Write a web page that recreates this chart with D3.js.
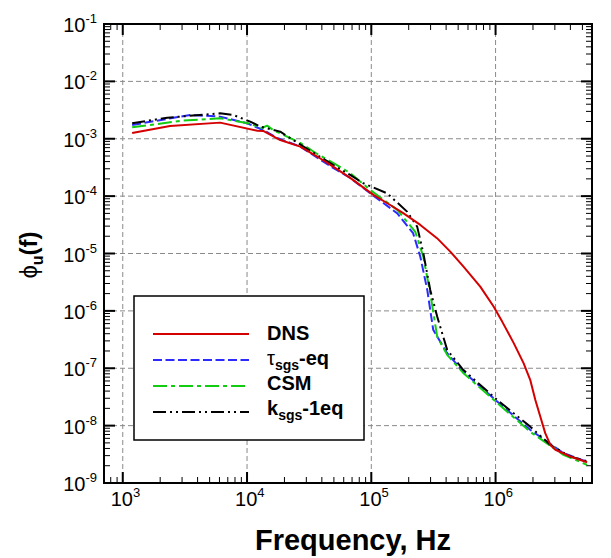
<!DOCTYPE html>
<html>
<head>
<meta charset="utf-8">
<script src="https://cdn.jsdelivr.net/npm/d3@7"></script>
<style>
  body { margin: 0; background: #fff; }
  svg { display: block; font-family: "Liberation Sans", Arial, sans-serif; }
</style>
</head>
<body>
<div id="chart"></div>
<script>
// spectra, [frequency Hz, phi_u]
var dns = [
  [1.19e3, 1.26e-3], [2.4e3, 1.67e-3], [6.07e3, 1.91e-3], [1.21e4, 1.38e-3],
  [1.35e4, 1.37e-3], [1.85e4, 9.5e-4], [2.68e4, 7.3e-4], [3.67e4, 4.9e-4],
  [4.93e4, 3.27e-4], [6.76e4, 2.08e-4], [1.04e5, 1.05e-4], [1.42e5, 7.0e-5],
  [1.82e5, 5.0e-5], [2.48e5, 3.15e-5], [3.38e5, 1.85e-5], [4.32e5, 1.08e-5],
  [5.52e5, 5.9e-6], [7.53e5, 2.65e-6], [9.64e5, 1.19e-6], [1.13e6, 6.5e-7],
  [1.4e6, 2.74e-7], [1.68e6, 1.23e-7], [1.9e6, 6.3e-8], [2.09e6, 2.8e-8],
  [2.29e6, 1.44e-8], [2.51e6, 7.4e-9], [2.76e6, 4.6e-9], [3.03e6, 3.8e-9],
  [3.99e6, 2.9e-9], [5.45e6, 2.3e-9]
];
var tauEq = [
  [1.19e3, 1.74e-3], [3.48e3, 2.6e-3], [6.07e3, 2.43e-3], [1.0e4, 1.86e-3],
  [1.35e4, 1.42e-3], [1.75e4, 1.03e-3], [2.68e4, 7.3e-4], [4.93e4, 3.1e-4],
  [6.76e4, 2.08e-4], [9.8e4, 1.12e-4], [1.62e5, 5.0e-5], [2.17e5, 2.26e-5],
  [2.48e5, 8.8e-6], [2.82e5, 2.32e-6], [3.15e5, 4.67e-7], [4.08e5, 1.83e-7],
  [5.49e5, 8.75e-8], [1.03e6, 2.63e-8], [1.9e6, 8.45e-9], [3.52e6, 3.32e-9],
  [5.45e6, 2.34e-9]
];
var csm = [
  [1.19e3, 1.58e-3], [3.05e3, 2.07e-3], [6.07e3, 2.28e-3], [1.02e4, 1.86e-3],
  [1.32e4, 1.54e-3], [1.45e4, 1.69e-3], [1.62e4, 1.42e-3], [2.68e4, 8.45e-4],
  [3.67e4, 5.43e-4], [4.93e4, 3.79e-4], [6.76e4, 2.53e-4], [9.8e4, 1.28e-4],
  [1.62e5, 5.75e-5], [2.26e5, 2.38e-5], [2.62e5, 8.8e-6], [2.98e5, 2.03e-6],
  [3.39e5, 3.56e-7], [4.08e5, 1.71e-7], [5.49e5, 8.3e-8], [1.03e6, 2.49e-8],
  [1.9e6, 7.8e-9], [3.52e6, 3.1e-9], [5.45e6, 2.07e-9]
];
var kEq = [
  [1.19e3, 1.86e-3], [2.28e3, 2.33e-3], [6.07e3, 2.78e-3], [7.73e3, 2.6e-3],
  [1.06e4, 1.99e-3], [1.28e4, 1.63e-3], [1.85e4, 1.33e-3], [2.35e4, 9.5e-4],
  [3.67e4, 5.2e-4], [4.93e4, 3.5e-4], [6.76e4, 2.34e-4], [8.6e4, 1.68e-4],
  [1.34e5, 1.12e-4], [1.94e5, 5.37e-5], [2.34e5, 2.94e-5], [2.62e5, 1.02e-5],
  [2.98e5, 2.32e-6], [3.39e5, 7.96e-7], [4.08e5, 2.09e-7], [5.49e5, 9.4e-8],
  [1.03e6, 2.81e-8], [1.9e6, 9.6e-9], [2.76e6, 4.6e-9], [3.99e6, 2.9e-9],
  [5.45e6, 2.39e-9]
];

var xExponents = [3, 4, 5, 6];
var yExponents = [-1, -2, -3, -4, -5, -6, -7, -8, -9];
var legendNames = [["DNS", ""], ["\u03c4", "sgs", "-eq"], ["CSM", ""], ["k", "sgs", "-1eq"]];

var width = 611, height = 558;
var plotLeft = 104, plotRight = 592, plotTop = 24, plotBottom = 483;

var svg = d3.select("#chart").append("svg")
  .attr("width", width)
  .attr("height", height);

var x = d3.scaleLog().domain([Math.pow(10, 2.849), Math.pow(10, 6.776)]).range([plotLeft, plotRight]);
var y = d3.scaleLog().domain([1e-9, 1e-1]).range([plotBottom, plotTop]);

var xMajor = xExponents.map(function(e) { return Math.pow(10, e); });
var yMajor = yExponents.map(function(e) { return Math.pow(10, e); });

function minors(scale) {
  var d = scale.domain(), out = [];
  var lo = Math.floor(Math.log10(d[0])), hi = Math.ceil(Math.log10(d[1]));
  for (var e = lo; e < hi; e++) {
    for (var m = 2; m <= 9; m++) {
      var v = m * Math.pow(10, e);
      if (v >= d[0] && v <= d[1]) out.push(v);
    }
  }
  return out;
}

// grid
var grid = svg.append("g")
  .attr("stroke", "#8a8a8a")
  .attr("stroke-width", 1)
  .attr("stroke-dasharray", "5,3");

grid.selectAll(".gx").data(xMajor).enter().append("line")
  .attr("x1", function(d) { return x(d); }).attr("x2", function(d) { return x(d); })
  .attr("y1", plotTop).attr("y2", plotBottom);

grid.selectAll(".gy").data(yMajor.slice(1, -1)).enter().append("line")
  .attr("x1", plotLeft).attr("x2", plotRight)
  .attr("y1", function(d) { return y(d); }).attr("y2", function(d) { return y(d); });

// ticks on all four sides, pointing in
var ticks = svg.append("g").attr("stroke", "#000");

function xTicks(vals, len, w) {
  ticks.append("g").selectAll("line").data(vals).enter().append("line")
    .attr("x1", function(d) { return x(d); }).attr("x2", function(d) { return x(d); })
    .attr("y1", plotBottom).attr("y2", plotBottom - len).attr("stroke-width", w);
  ticks.append("g").selectAll("line").data(vals).enter().append("line")
    .attr("x1", function(d) { return x(d); }).attr("x2", function(d) { return x(d); })
    .attr("y1", plotTop).attr("y2", plotTop + len).attr("stroke-width", w);
}
function yTicks(vals, len, w) {
  ticks.append("g").selectAll("line").data(vals).enter().append("line")
    .attr("y1", function(d) { return y(d); }).attr("y2", function(d) { return y(d); })
    .attr("x1", plotLeft).attr("x2", plotLeft + len).attr("stroke-width", w);
  ticks.append("g").selectAll("line").data(vals).enter().append("line")
    .attr("y1", function(d) { return y(d); }).attr("y2", function(d) { return y(d); })
    .attr("x1", plotRight).attr("x2", plotRight - len).attr("stroke-width", w);
}
xTicks(xMajor, 11, 2);
xTicks(minors(x), 6, 1);
yTicks(yMajor, 11, 2);
yTicks(minors(y), 6, 1);

// curves
var line = d3.line()
  .x(function(d) { return x(d[0]); })
  .y(function(d) { return y(d[1]); });

var series = [
  { data: dns, color: "#d40000", dash: null },
  { data: tauEq, color: "#2b2bff", dash: "9,3.5" },
  { data: csm, color: "#11cc11", dash: "14,4,4,4" },
  { data: kEq, color: "#000000", dash: "13,4,2,4,2,4" }
];

// models first, then the red line on top
[1, 2, 3, 0].forEach(function(i) {
  svg.append("path")
    .datum(series[i].data)
    .attr("d", line)
    .attr("fill", "none")
    .attr("stroke", series[i].color)
    .attr("stroke-width", 2)
    .attr("stroke-linejoin", "round")
    .attr("stroke-dasharray", series[i].dash);
});

// frame
svg.append("rect")
  .attr("x", plotLeft).attr("y", plotTop)
  .attr("width", plotRight - plotLeft).attr("height", plotBottom - plotTop)
  .attr("fill", "none").attr("stroke", "#000").attr("stroke-width", 2);

// tick labels
var xl = svg.append("g").attr("font-size", 20).attr("fill", "#000");
xMajor.forEach(function(v, i) {
  var t = xl.append("text").attr("x", x(v) - 12).attr("y", plotBottom + 23);
  t.append("tspan").text("10");
  t.append("tspan").attr("font-size", 13).attr("dy", -9).text(xExponents[i]);
});

var yl = svg.append("g").attr("font-size", 20).attr("fill", "#000").attr("text-anchor", "end");
yMajor.forEach(function(v, i) {
  var t = yl.append("text").attr("x", 97).attr("y", y(v) + 8);
  t.append("tspan").text("10");
  t.append("tspan").attr("font-size", 13).attr("dy", -9).text(yExponents[i]);
});

// axis titles
svg.append("text")
  .attr("x", (plotLeft + plotRight) / 2 + 5).attr("y", 550)
  .attr("text-anchor", "middle")
  .attr("font-size", 29).attr("font-weight", "bold")
  .text("Frequency, Hz");

var yt = svg.append("text")
  .attr("transform", "translate(37,255) rotate(-90)")
  .attr("text-anchor", "middle")
  .attr("font-size", 24);
yt.append("tspan").text("\u03d5");
yt.append("tspan").attr("font-size", 16).attr("font-weight", "bold").attr("dy", 6).text("u");
yt.append("tspan").attr("font-weight", "bold").attr("dy", -6).text("(f)");

// legend
var legend = svg.append("g");
legend.append("rect")
  .attr("x", 134).attr("y", 296)
  .attr("width", 230).attr("height", 144)
  .attr("fill", "#fff").attr("stroke", "#000").attr("stroke-width", 1.5);

series.forEach(function(s, i) {
  var ly = 334 + i * 26;
  legend.append("line")
    .attr("x1", 153).attr("x2", 249)
    .attr("y1", ly).attr("y2", ly)
    .attr("stroke", s.color).attr("stroke-width", 2)
    .attr("stroke-dasharray", s.dash);
  var name = legendNames[i];
  var t = legend.append("text")
    .attr("x", 267).attr("y", 340 + i * 25)
    .attr("font-size", 20).attr("font-weight", "bold");
  if (name[1] === "") {
    t.text(name[0]);
  } else {
    t.append("tspan").attr("font-weight", i === 1 ? "normal" : "bold").text(name[0]);
    t.append("tspan").attr("font-size", 14).attr("dy", 5).text(name[1]);
    t.append("tspan").attr("dy", -5).text(name[2]);
  }
});
</script>
</body>
</html>
